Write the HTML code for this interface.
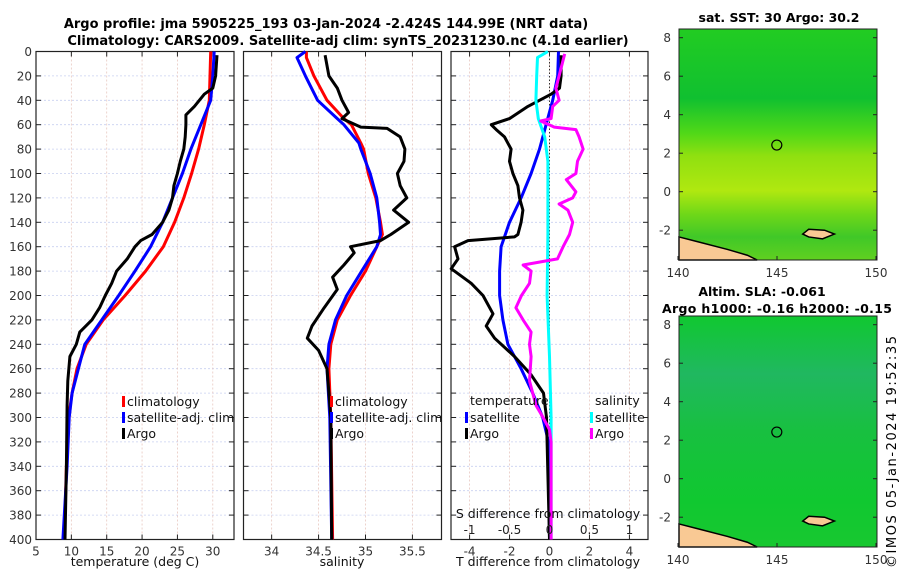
<!DOCTYPE html>
<html><head><meta charset="utf-8"><style>
body{margin:0;background:#fff;}
svg text{font-family:"DejaVu Sans","Liberation Sans",sans-serif;}
</style></head><body>
<svg id="c" width="900" height="580" viewBox="0 0 900 580" xmlns="http://www.w3.org/2000/svg">
<text x="326" y="28" font-size="13" font-weight="bold" text-anchor="middle">Argo profile: jma 5905225_193 03-Jan-2024 -2.424S 144.99E (NRT data)</text>
<text x="348" y="45" font-size="13" font-weight="bold" text-anchor="middle">Climatology: CARS2009. Satellite-adj clim: synTS_20231230.nc (4.1d earlier)</text>
<g id="p1"></g>
<g id="p2"></g>
<g id="p3"></g>
<g id="m1"></g>
<g id="m2"></g>
<text x="779" y="22" font-size="12.5" font-weight="bold" text-anchor="middle">sat. SST: 30 Argo: 30.2</text>
<text x="762" y="296" font-size="12.5" font-weight="bold" text-anchor="middle">Altim. SLA: -0.061</text>
<text x="777" y="313" font-size="12.5" font-weight="bold" text-anchor="middle" textLength="230">Argo h1000: -0.16 h2000: -0.15</text>
<text transform="translate(896,568) rotate(-90)" font-size="13" textLength="232">©IMOS 05-Jan-2024 19:52:35</text>
</svg>
<script>
// depth levels & profiles
const tDepthClim=[0,20,40,60,80,100,120,140,160,180,200,220,240,260,280,300,340,400];
const tempClim=[29.7,29.6,29.5,28.8,28.0,27.0,25.9,24.6,23.0,20.5,17.6,14.5,12.1,10.8,10.1,9.6,9.3,9.0];
const tempSat=[30.2,30.0,29.7,28.3,26.9,25.7,24.3,22.9,21.2,19.0,16.7,14.3,11.9,11.0,10.1,9.7,9.4,8.8];
const argoDepth=[3,20,30,35,45,52,60,70,80,90,100,110,120,130,140,150,155,160,170,180,190,200,210,220,230,240,250,270,290,340,400];
const tempArgo=[30.6,30.4,30.0,28.8,27.4,26.2,26.2,26.1,25.9,25.4,25.0,24.5,24.3,23.8,22.9,21.4,19.8,19.0,17.9,16.4,15.7,14.8,14.0,12.9,11.2,10.7,9.8,9.5,9.4,9.3,9.1];
const sDepthClim=[0,5,20,40,55,60,75,80,100,120,140,150,160,180,200,220,240,260,300,400];
const salClim=[34.37,34.37,34.45,34.59,34.77,34.85,34.95,34.98,35.03,35.11,35.16,35.18,35.12,35.0,34.84,34.7,34.63,34.61,34.63,34.65];
const salSat=[34.36,34.27,34.36,34.49,34.70,34.77,34.93,34.95,35.05,35.12,35.15,35.16,35.12,34.96,34.80,34.68,34.61,34.59,34.62,34.64];
const sArgoDepth=[3,20,30,40,50,55,62,63,70,80,90,100,110,120,130,140,150,155,160,165,175,185,195,210,225,235,245,260,300,400];
const salArgo=[34.57,34.61,34.70,34.75,34.82,34.75,34.95,35.23,35.37,35.42,35.41,35.34,35.37,35.44,35.30,35.46,35.27,35.16,34.84,34.88,34.77,34.65,34.70,34.56,34.43,34.38,34.50,34.59,34.63,34.64];
const dtDepth=[0,20,40,60,80,100,120,140,160,180,200,220,240,260,280,300,320,400];
const dTempSat=[0.45,0.41,0.16,-0.17,-0.5,-0.92,-1.42,-2.0,-2.42,-2.5,-2.5,-2.33,-2.08,-1.42,-0.84,-0.34,-0.05,0.0];
const dtArgoDepth=[3,20,30,35,45,55,60,64,70,80,90,100,110,120,130,140,150,152,155,160,170,178,190,200,215,225,235,250,265,280,300,400];
const dTempArgo=[0.58,0.58,0.5,0.08,-1.08,-2.0,-2.92,-2.67,-2.25,-1.92,-2.0,-1.83,-1.58,-1.5,-1.33,-1.42,-1.58,-1.75,-4.08,-4.75,-4.58,-4.92,-3.92,-3.33,-2.83,-3.17,-2.75,-1.75,-0.92,-0.3,-0.15,0.0];
const dsDepth=[0,5,20,40,55,70,90,150,200,250,300,400];
const dSalSat=[-0.02,-0.15,-0.16,-0.17,-0.14,-0.06,-0.02,-0.02,-0.03,0.0,0.02,0.02];
const dsArgoDepth=[2,20,30,40,45,55,57,62,64,70,80,90,100,105,115,120,125,130,140,150,160,170,175,180,190,200,210,220,230,240,250,270,290,300,310,320,400];
const dSalArgo=[0.19,0.12,0.08,0.12,0.04,0.02,-0.11,0.06,0.33,0.37,0.42,0.35,0.33,0.21,0.33,0.29,0.12,0.23,0.29,0.25,0.17,0.1,-0.33,-0.23,-0.25,-0.35,-0.42,-0.33,-0.23,-0.25,-0.23,-0.25,-0.17,-0.08,0,0.02,0.02];
const depthTicks=[0,20,40,60,80,100,120,140,160,180,200,220,240,260,280,300,320,340,360,380,400];
const tempTicks=[5,10,15,20,25,30];
const salTicks=[34,34.5,35,35.5];
const tdTicks=[-4,-2,0,2,4];
const sdTicks=[-1,-0.5,0,0.5,1];
const mapLonTicks=[140,145,150];
const mapLatTicks=[-2,0,2,4,6,8];

const NS='http://www.w3.org/2000/svg';
function mk(p,t,a){const e=document.createElementNS(NS,t);for(const k in a)e.setAttribute(k,a[k]);p.appendChild(e);return e;}
const TOP=51.5,BOT=539.5;
const yD=d=>TOP+(d/400)*(BOT-TOP);

function panel(g,x0,x1,xmin,xmax,ticks,showDepth){
  const xs=v=>x0+(v-xmin)/(xmax-xmin)*(x1-x0);
  depthTicks.forEach(d=>{const l=mk(g,'line',{x1:x0,x2:x1,y1:yD(d),y2:yD(d),stroke:'#c8d0f0','stroke-width':0.8,'stroke-dasharray':'2,2'});
    
    mk(g,'line',{x1:x0,x2:x0+5,y1:yD(d),y2:yD(d),stroke:'#222'});mk(g,'line',{x1:x1-5,x2:x1,y1:yD(d),y2:yD(d),stroke:'#222'});
    if(showDepth){const t=mk(g,'text',{x:x0-4,y:yD(d)+4.5,'font-size':12,'text-anchor':'end',fill:'#333'});t.textContent=d;
      }});
  ticks.forEach(v=>{const l=mk(g,'line',{x1:xs(v),x2:xs(v),y1:TOP,y2:BOT,stroke:'#e8c8c0','stroke-width':0.8,'stroke-dasharray':'2,2'});
    
    mk(g,'line',{x1:xs(v),x2:xs(v),y1:BOT-5,y2:BOT,stroke:'#222'});mk(g,'line',{x1:xs(v),x2:xs(v),y1:TOP,y2:TOP+5,stroke:'#222'});
    const t=mk(g,'text',{x:xs(v),y:BOT+16,'font-size':12,'text-anchor':'middle',fill:'#333'});t.textContent=v;
    });
  const r=mk(g,'rect',{x:x0,y:TOP,width:x1-x0,height:BOT-TOP,fill:'none',stroke:'#222','stroke-width':1.2});
  
  return xs;
}
function line(g,xs,vals,deps,col,name,w){
  const pts=vals.map((v,i)=>xs(v).toFixed(1)+','+yD(deps[i]).toFixed(1)).join(' ');
  const p=mk(g,'polyline',{points:pts,fill:'none',stroke:col,'stroke-width':w||3,'stroke-linejoin':'round'});
  
}
function txt(g,x,y,s,name,anchor){const t=mk(g,'text',{x:x,y:y,'font-size':12.5,fill:'#111','text-anchor':anchor||'start'});t.textContent=s;
  return t;}
function leg(g,x,y,col,s,name){const r=mk(g,'rect',{x:x,y:y-10,width:3,height:11,fill:col});txt(g,x+5,y,s,name);}

// panel 1
const g1=document.getElementById('p1');
const x1s=panel(g1,36,234,5,33,tempTicks,true);
line(g1,x1s,tempClim,tDepthClim,'#f00','temp-climatology-line');
line(g1,x1s,tempSat,tDepthClim,'#00f','temp-satellite-line');
line(g1,x1s,tempArgo,argoDepth,'#000','temp-argo-line');
txt(g1,135,566,'temperature (deg C)','x-axis-title','middle');
leg(g1,122,406,'#f00','climatology','legend-climatology');
leg(g1,122,422,'#00f','satellite-adj. clim','legend-satellite');
leg(g1,122,438,'#000','Argo','legend-argo');

// panel 2
const g2=document.getElementById('p2');
const x2s=panel(g2,243.5,441.5,33.7,35.81,salTicks,false);
line(g2,x2s,salClim,sDepthClim,'#f00','sal-climatology-line');
line(g2,x2s,salSat,sDepthClim,'#00f','sal-satellite-line');
line(g2,x2s,salArgo,sArgoDepth,'#000','sal-argo-line');
txt(g2,342,566,'salinity','x-axis-title','middle');
leg(g2,330,406,'#f00','climatology','legend-climatology');
leg(g2,330,422,'#00f','satellite-adj. clim','legend-satellite');
leg(g2,330,438,'#000','Argo','legend-argo');

// panel 3
const g3=document.getElementById('p3');
const x3s=panel(g3,451,648,-4.93,4.93,tdTicks,false);
const sds=v=>x3s(v*4);
const z=mk(g3,'line',{x1:x3s(0),x2:x3s(0),y1:TOP,y2:BOT,stroke:'#333','stroke-width':1,'stroke-dasharray':'1.5,2'});

line(g3,x3s,dTempSat,dtDepth,'#00f','dtemp-satellite-line');
line(g3,x3s,dTempArgo,dtArgoDepth,'#000','dtemp-argo-line');
line(g3,sds,dSalSat,dsDepth,'#0ff','dsal-satellite-line');
line(g3,sds,dSalArgo,dsArgoDepth,'#f0f','dsal-argo-line');
sdTicks.forEach(v=>{const t=mk(g3,'text',{x:sds(v),y:534,'font-size':12,'text-anchor':'middle',fill:'#222'});t.textContent=v;
  });
txt(g3,548,518,'S difference from climatology','s-diff-axis-title','middle');
txt(g3,548,566,'T difference from climatology','t-diff-axis-title','middle');
txt(g3,470,405,'temperature','legend-temperature-header');
txt(g3,595,405,'salinity','legend-salinity-header');
leg(g3,465,422,'#00f','satellite','legend-t-satellite');
leg(g3,465,438,'#000','Argo','legend-t-argo');
leg(g3,590,422,'#0ff','satellite','legend-s-satellite');
leg(g3,590,438,'#f0f','Argo','legend-s-argo');

// maps
function map(g,top,bands){
  const L=679,R=877,H=231;
  const lx=v=>L+(v-140)/10*(R-L)-1;
  const ly=v=>top+8.7+(8-v)*19.25;
  const id='gr'+top;
  const defs=mk(g,'defs',{});const lg=mk(defs,'linearGradient',{id:id,x1:0,y1:0,x2:0,y2:1});
  bands.forEach(b=>mk(lg,'stop',{offset:b[0],'stop-color':b[1]}));
  const bg=mk(g,'rect',{x:L,y:top,width:R-L,height:H,fill:'url(#'+id+')'});
  
  const land=mk(g,'polygon',{points:`${L},${ly(-2.35)} ${lx(141)},${ly(-2.6)} ${lx(142.5)},${ly(-3.0)} ${lx(143.5)},${ly(-3.3)} ${lx(144)},${top+H} ${L},${top+H}`,fill:'#f9c994',stroke:'#000','stroke-width':1.5});
  
  const isl=mk(g,'polygon',{points:`${lx(146.3)},${ly(-2.2)} ${lx(146.6)},${ly(-1.95)} ${lx(147.4)},${ly(-2.0)} ${lx(147.9)},${ly(-2.2)} ${lx(147.3)},${ly(-2.45)} ${lx(146.6)},${ly(-2.35)}`,fill:'#f9c994',stroke:'#000','stroke-width':1.5});
  
  const c=mk(g,'circle',{cx:lx(144.99),cy:ly(2.424),r:5,fill:'none',stroke:'#000','stroke-width':1.2});
  
  mk(g,'rect',{x:L,y:top,width:R-L,height:H,fill:'none',stroke:'#222','stroke-width':1});
  mapLatTicks.forEach(v=>{mk(g,'line',{x1:L,x2:L+4,y1:ly(v),y2:ly(v),stroke:'#222'});mk(g,'line',{x1:R-4,x2:R,y1:ly(v),y2:ly(v),stroke:'#222'});
    const t=mk(g,'text',{x:L-8,y:ly(v)+4.5,'font-size':12,'text-anchor':'end',fill:'#333'});t.textContent=v;
    });
  mapLonTicks.forEach(v=>{mk(g,'line',{x1:lx(v),x2:lx(v),y1:top+H-4,y2:top+H,stroke:'#222'});
    const t=mk(g,'text',{x:lx(v),y:top+H+17,'font-size':12,'text-anchor':'middle',fill:'#333'});t.textContent=v;
    });
}
map(document.getElementById('m1'),29,[[0,'#22cc22'],[0.3,'#10c030'],[0.45,'#50d818'],[0.55,'#90e010'],[0.7,'#b0e810'],[0.8,'#70d818'],[0.9,'#40c828'],[1,'#60d020']]);
map(document.getElementById('m2'),316,[[0,'#10c830'],[0.25,'#20b860'],[0.5,'#18c040'],[0.8,'#10c830'],[1,'#18c830']]);
</script>
</body></html>
